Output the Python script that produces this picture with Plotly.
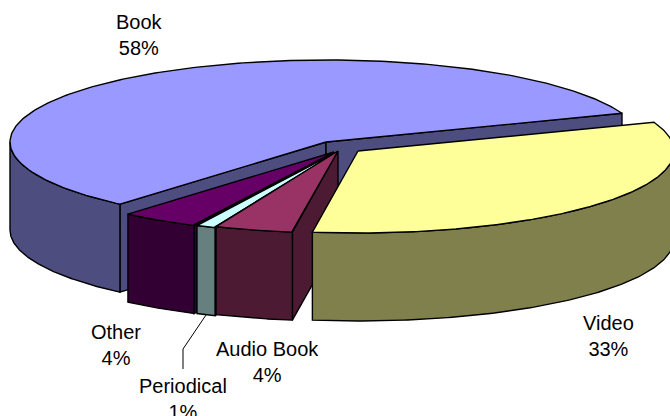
import numpy as np
import plotly.graph_objects as go

# Data, clockwise from the first slice
categories = ["Video", "Audio Book", "Periodical", "Other", "Book"]
percents = [33, 4, 1, 4, 58]

# Projection and styling
START = 69.5
A, B, DEPTH = 316, 82, 88
centers = {"Video": (358, 151), "Audio Book": (338, 151), "Periodical": (337, 152),
           "Other": (334, 152), "Book": (326, 142)}
top_colors = {"Video": "#FFFF99", "Audio Book": "#993366", "Periodical": "#CCFFFF",
              "Other": "#660066", "Book": "#9999FF"}
side_colors = {"Video": "#80804D", "Audio Book": "#4D1A33", "Periodical": "#668080",
               "Other": "#330033", "Book": "#4D4D80"}
label_pos = {"Video": (608, 336), "Audio Book": (267, 362), "Periodical": (183, 399),
             "Other": (116, 345), "Book": (139, 35)}
draw_order = ["Book", "Other", "Periodical", "Audio Book", "Video"]

edges = START + np.concatenate([[0], np.cumsum(percents)]) * 3.6 * 100 / sum(percents)
spans = {c: (edges[i], edges[i + 1]) for i, c in enumerate(categories)}


def rim(c, t):
    r = np.radians(t)
    cx, cy = centers[c]
    return cx + A * np.sin(r), cy - B * np.cos(r)


def poly(fig, x, y, color):
    fig.add_trace(go.Scatter(x=list(x) + [x[0]], y=list(y) + [y[0]], mode="lines", fill="toself",
                             fillcolor=color, line=dict(color="black", width=1.4),
                             hoverinfo="skip", showlegend=False))


fig = go.Figure()
for c in draw_order:
    t0, t1 = spans[c]
    cx, cy = centers[c]
    side = side_colors[c]
    # cut faces that look towards the viewer
    for t, visible in ((t0, np.sin(np.radians(t0)) < 0), (t1, np.sin(np.radians(t1)) > 0)):
        if visible:
            x, y = rim(c, t)
            poly(fig, [cx, x, x, cx], [cy, y, y + DEPTH, cy + DEPTH], side)
    # outer wall: the front half only (90..270 degrees, modulo a turn)
    lo, hi = max(t0, 90), min(t1, 270)
    if lo < hi:
        ts = np.linspace(lo, hi, 120)
        x, y = rim(c, ts)
        poly(fig, np.r_[x, x[::-1]], np.r_[y, (y + DEPTH)[::-1]], side)
    # top face
    ts = np.linspace(t0, t1, 240)
    x, y = rim(c, ts)
    poly(fig, np.r_[cx, x], np.r_[cy, y], top_colors[c])

# Leader line of the Periodical label
fig.add_trace(go.Scatter(x=[206, 183, 183], y=[315, 349, 369], mode="lines",
                         line=dict(color="black", width=1), hoverinfo="skip", showlegend=False))

for c, p in zip(categories, percents):
    lx, ly = label_pos[c]
    fig.add_annotation(x=lx, y=ly, text=f"{c}<br>{p}%", showarrow=False, align="center",
                       xanchor="center", yanchor="middle",
                       font=dict(family="Liberation Sans, Arial, sans-serif", size=20, color="black"))

fig.update_layout(width=670, height=416, margin=dict(l=0, r=0, t=0, b=0),
                  paper_bgcolor="white", plot_bgcolor="white", showlegend=False,
                  xaxis=dict(range=[0, 670], visible=False, fixedrange=True),
                  yaxis=dict(range=[416, 0], visible=False, fixedrange=True))
fig.write_html("out.html", config={"displayModeBar": False},
               post_script="document.body.style.margin='0';document.body.style.overflow='hidden';")
